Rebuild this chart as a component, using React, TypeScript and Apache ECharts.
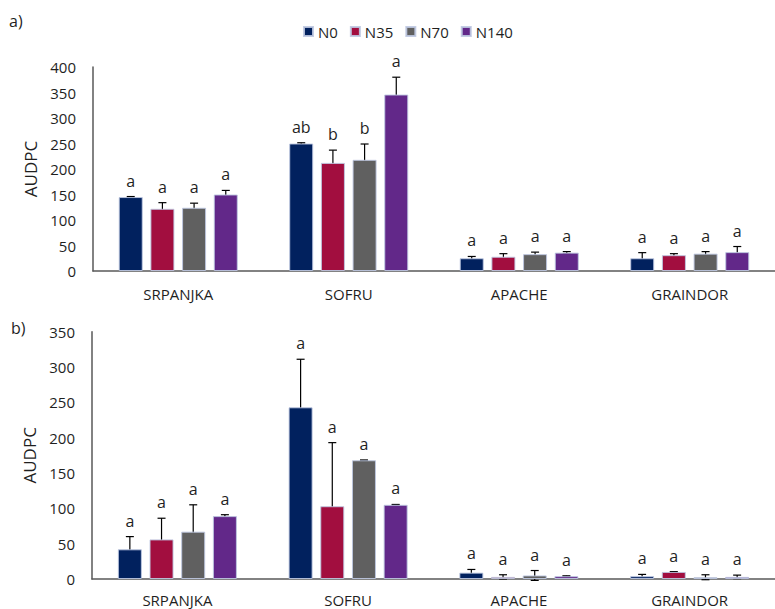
import React, { useEffect, useRef } from "react";
import * as echarts from "echarts";

const categories = ["SRPANJKA", "SOFRU", "APACHE", "GRAINDOR"];
const seriesNames = ["N0", "N35", "N70", "N140"];
const colors = ["#01215E", "#A20E3F", "#606060", "#622889"];

// Panel a)
const aN0 = [145, 250, 25, 25];
const aN35 = [122, 212, 28, 31];
const aN70 = [124, 218, 33, 34];
const aN140 = [150, 346, 36, 37];
const aErrN0 = [1, 1.5, 3.5, 11];
const aErrN35 = [12, 25, 6, 3];
const aErrN70 = [9, 31, 4, 4];
const aErrN140 = [8, 34, 2, 11];
const aLetN0 = ["a", "ab", "a", "a"];
const aLetN35 = ["a", "b", "a", "a"];
const aLetN70 = ["a", "b", "a", "a"];
const aLetN140 = ["a", "a", "a", "a"];

// Panel b)
const bN0 = [42, 243, 9, 4];
const bN35 = [56, 103, 3, 10];
const bN70 = [67, 168, 5, 2.5];
const bN140 = [89, 105, 4, 3];
const bErrN0 = [18, 68, 4.5, 2.5];
const bErrN35 = [30, 90, 3, 0.5];
const bErrN70 = [38, 0.5, 7, 3.5];
const bErrN140 = [2, 0.5, 0.5, 2.5];
const bLetN0 = ["a", "a", "a", "a"];
const bLetN35 = ["a", "a", "a", "a"];
const bLetN70 = ["a", "a", "a", "a"];
const bLetN140 = ["a", "a", "a", "a"];

const aTicks = { min: 0, max: 400, interval: 50 };
const bTicks = { min: 0, max: 350, interval: 50 };

const FONT = "'Open Sans', sans-serif";
const TEXT = "#1f1f1f";
const BAR_W = 24;
const BAR_GAP = 0.32;

export default function App() {
  const ref = useRef<HTMLDivElement>(null);
  useEffect(() => {
    if (!ref.current) return;
    const chart = echarts.init(ref.current, null, { renderer: "svg" });

    const panels = [
      {
        vals: [aN0, aN35, aN70, aN140],
        errs: [aErrN0, aErrN35, aErrN70, aErrN140],
        lets: [aLetN0, aLetN35, aLetN70, aLetN140],
        ticks: aTicks,
      },
      {
        vals: [bN0, bN35, bN70, bN140],
        errs: [bErrN0, bErrN35, bErrN70, bErrN140],
        lets: [bLetN0, bLetN35, bLetN70, bLetN140],
        ticks: bTicks,
      },
    ];

    const gap = BAR_W * BAR_GAP;
    const total = 4 * BAR_W + 3 * gap;
    const offsetOf = (i: number) => -total / 2 + i * (BAR_W + gap) + BAR_W / 2;

    const series: any[] = [];
    panels.forEach((p, pi) => {
      p.vals.forEach((v, si) => {
        series.push({
          type: "bar",
          name: seriesNames[si],
          xAxisIndex: pi,
          yAxisIndex: pi,
          data: v,
          barWidth: BAR_W,
          barGap: BAR_GAP * 100 + "%",
          itemStyle: {
            color: colors[si],
            borderColor: "rgba(190,200,225,0.9)",
            borderWidth: 1,
          },
        });
      });
      const errData: any[] = [];
      p.vals.forEach((v, si) => {
        v.forEach((val, ci) => {
          errData.push([ci, val, p.errs[si][ci], si]);
        });
      });
      series.push({
        type: "custom",
        xAxisIndex: pi,
        yAxisIndex: pi,
        silent: true,
        dimensions: ["x", "y", "e", "s"],
        encode: { x: 0, y: 1 },
        data: errData,
        renderItem: (params: any, api: any) => {
          const ci = api.value(0);
          const val = api.value(1);
          const e = api.value(2);
          const si = api.value(3);
          const hi = api.coord([ci, val + e]);
          const lo = api.coord([ci, val - e]);
          const x = hi[0] + offsetOf(si);
          const cap = 4;
          const st = { stroke: "#000", lineWidth: 1.2 };
          return {
            type: "group",
            children: [
              { type: "line", shape: { x1: x, y1: hi[1], x2: x, y2: lo[1] }, style: st },
              { type: "line", shape: { x1: x - cap, y1: hi[1], x2: x + cap, y2: hi[1] }, style: st },
              { type: "line", shape: { x1: x - cap, y1: lo[1], x2: x + cap, y2: lo[1] }, style: st },
              {
                type: "text",
                style: {
                  text: p.lets[si][ci],
                  x: x,
                  y: hi[1] - 16,
                  align: "center",
                  verticalAlign: "middle",
                  fill: TEXT,
                  font: "16px " + FONT,
                },
              },
            ],
          };
        },
      });
    });

    const axisLine = { show: true, lineStyle: { color: "#595959", width: 1.5 } };

    chart.setOption({
      animation: false,
      legend: {
        data: seriesNames,
        left: 298,
        top: 19,
        itemWidth: 9,
        itemHeight: 9,
        itemGap: 12,
        icon: "rect",
        textStyle: { fontFamily: FONT, fontSize: 15, color: TEXT },
      },
      grid: [
        { left: 93, right: -9, top: 67, height: 204 },
        { left: 92, right: -9, top: 331.7, height: 247.3 },
      ],
      xAxis: [0, 1].map((gi) => ({
        type: "category",
        gridIndex: gi,
        data: categories,
        axisLine,
        axisTick: { show: false },
        axisLabel: { margin: gi === 0 ? 15 : 13, fontFamily: FONT, fontSize: 15, color: TEXT },
      })),
      yAxis: panels.map((p, gi) => ({
        type: "value",
        gridIndex: gi,
        min: p.ticks.min,
        max: p.ticks.max,
        interval: p.ticks.interval,
        name: "AUDPC",
        nameLocation: "middle",
        nameGap: 46,
        nameTextStyle: { fontFamily: FONT, fontSize: 17, color: TEXT },
        axisLine,
        axisTick: { show: false },
        splitLine: { show: false },
        axisLabel: { margin: 17, fontFamily: FONT, fontSize: 15, color: TEXT },
      })),
      graphic: [
        { type: "text", left: 9, top: 13, style: { text: "a)", font: "16px " + FONT, fill: TEXT } },
        { type: "text", left: 11, top: 320, style: { text: "b)", font: "16px " + FONT, fill: TEXT } },
      ],
      series,
    });
    return () => chart.dispose();
  }, []);
  return (
    <div
      ref={ref}
      style={{ position: "fixed", left: 0, top: 0, width: 775, height: 609, background: "#fff" }}
    />
  );
}
